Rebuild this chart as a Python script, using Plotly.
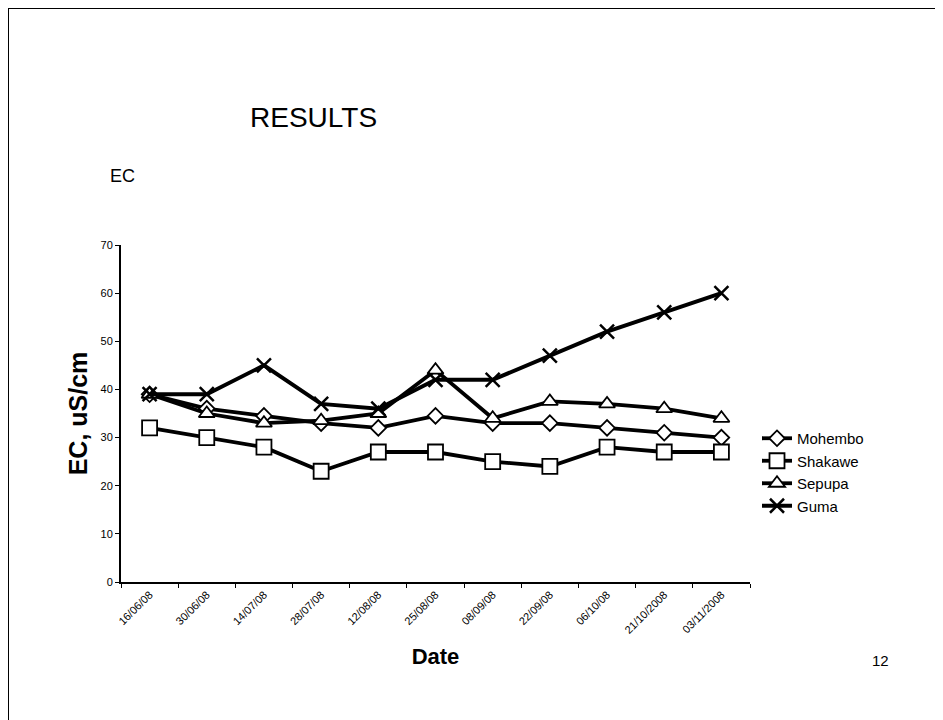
import plotly.graph_objects as go

dates = ["16/06/08", "30/06/08", "14/07/08", "28/07/08", "12/08/08", "25/08/08",
         "08/09/08", "22/09/08", "06/10/08", "21/10/2008", "03/11/2008"]
mohembo = [39, 36, 34.5, 33, 32, 34.5, 33, 33, 32, 31, 30]
shakawe = [32, 30, 28, 23, 27, 27, 25, 24, 28, 27, 27]
sepupa = [39, 35, 33, 33.5, 35, 44, 34, 37.5, 37, 36, 34]
guma = [39, 39, 45, 37, 36, 42, 42, 47, 52, 56, 60]

OFF = 8  # page offset of the figure (body margin)
W, H = 943 - OFF, 720 - OFF
L, R, T, B = 121, 750, 245, 582  # plot area in page pixels


def px_x(p):
    return (p - L) / (R - L)


def px_y(p):
    return (B - p) / (B - T)


fig = go.Figure()
series = [
    ("Mohembo", mohembo, "diamond", 12, 3.8),
    ("Shakawe", shakawe, "square", 15, 3.8),
    ("Sepupa", sepupa, "triangle-up", 14, 3.8),
    ("Guma", guma, "x-thin", 14, 4),
]
for name, vals, sym, size, lw in series:
    fig.add_trace(go.Scatter(
        x=dates, y=vals, name=name, mode="lines+markers", legendgroup=name,
        line=dict(color="black", width=lw),
        marker=dict(symbol=sym, size=size, color="white",
                    line=dict(color="black", width=1.8 if sym != "x-thin" else 2.5)),
    ))

fig.update_layout(
    width=W, height=H,
    margin=dict(l=L - OFF, r=W - (R - OFF), t=T - OFF, b=H - (B - OFF)),
    paper_bgcolor="white", plot_bgcolor="white",
    font=dict(family="Arial, Liberation Sans, sans-serif", color="black"),
    showlegend=True,
    legend=dict(x=px_x(757), y=px_y(422), xanchor="left", yanchor="top",
                font=dict(size=15, color="black"), itemwidth=30,
                tracegroupgap=0, bgcolor="rgba(0,0,0,0)"),
    xaxis=dict(type="category", showline=True, linecolor="black", linewidth=2,
               ticks="outside", ticklen=4, tickcolor="black", tickson="boundaries",
               tickangle=-45, tickfont=dict(size=11), showgrid=False,
               range=[-0.5, 10.5],
               title=dict(text="<b>Date</b>", font=dict(size=22), standoff=14)),
    yaxis=dict(range=[0, 70], dtick=10, showline=True, linecolor="black", linewidth=2,
               ticks="outside", ticklen=4, tickcolor="black", showgrid=False,
               zeroline=False, tickfont=dict(size=11),
               title=dict(text="<b>EC, uS/cm</b>", font=dict(size=25), standoff=6)),
    annotations=[
        dict(text="RESULTS", x=px_x(248), y=px_y(118), xref="paper", yref="paper",
             xanchor="left", yanchor="middle", showarrow=False, font=dict(size=28)),
        dict(text="EC", x=px_x(108), y=px_y(176), xref="paper", yref="paper",
             xanchor="left", yanchor="middle", showarrow=False, font=dict(size=18)),
        dict(text="12", x=px_x(880), y=px_y(660), xref="paper", yref="paper",
             xanchor="center", yanchor="middle", showarrow=False, font=dict(size=15)),
    ],
    shapes=[
        dict(type="line", xref="paper", yref="paper", x0=px_x(8), x1=px_x(943),
             y0=px_y(8), y1=px_y(8), line=dict(color="black", width=2)),
        dict(type="line", xref="paper", yref="paper", x0=px_x(8), x1=px_x(8),
             y0=px_y(8), y1=px_y(720), line=dict(color="black", width=2)),
    ],
)

fig.write_html("out.html")
